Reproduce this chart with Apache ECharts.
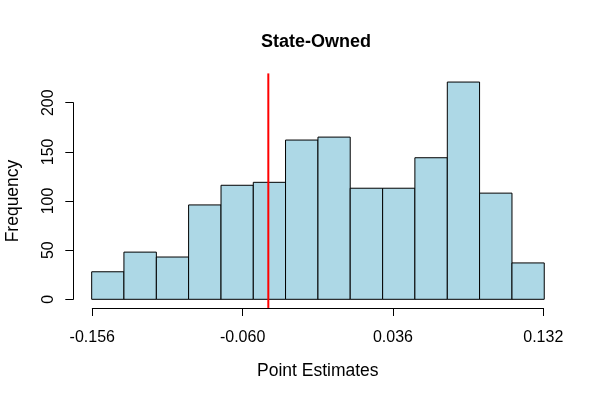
<!DOCTYPE html>
<html>
<head>
<meta charset="utf-8">
<script src="https://cdn.jsdelivr.net/npm/echarts@6/dist/echarts.min.js"></script>
<style>
  html, body { margin: 0; padding: 0; background: #fff; }
  #chart { width: 600px; height: 400px; }
</style>
</head>
<body>
<div id="chart"></div>
<script>
  // histogram breaks (bin edges) and counts per bin
  var breaks = [-0.1564, -0.1358, -0.1151, -0.0945, -0.0738, -0.0532, -0.0326, -0.0119,
                0.0087, 0.0294, 0.0500, 0.0707, 0.0913, 0.1120, 0.1326];
  var counts = [28, 48, 43, 96, 116, 119, 162, 165, 113, 113, 144, 221, 108, 37];
  var xTicks = [-0.156, -0.060, 0.036, 0.132];
  var yTicks = [0, 50, 100, 150, 200];
  var refLine = -0.0436;   // red vertical line
  var plotYRange = [-8.8, 229.8]; // vertical extent of plot region (abline spans it)

  var font = 'Liberation Sans, Arial, sans-serif';

  var bins = counts.map(function (c, i) { return [breaks[i], breaks[i + 1], c]; });

  var chart = echarts.init(document.getElementById('chart'));
  chart.setOption({
    animation: false,
    title: {
      text: 'State-Owned',
      left: 311,
      top: 28,
      textAlign: 'center',
      textStyle: { fontFamily: font, fontSize: 18, fontWeight: 'bold', color: '#000' }
    },
    grid: {
      left: 92.3, right: 56.7, top: 102.7, bottom: 100.7,
      containLabel: false,
      outerBoundsMode: 'none'
    },
    xAxis: {
      type: 'value',
      min: xTicks[0],
      max: xTicks[xTicks.length - 1],
      offset: 8.7,
      name: 'Point Estimates',
      nameLocation: 'middle',
      nameGap: 54,
      nameTextStyle: { fontFamily: font, fontSize: 17.5, color: '#000' },
      splitLine: { show: false },
      axisLine: { onZero: false, lineStyle: { color: '#000', width: 1 } },
      axisTick: { length: 8, lineStyle: { color: '#000' }, customValues: xTicks },
      axisLabel: {
        customValues: xTicks,
        margin: 22,
        fontFamily: font, fontSize: 16, color: '#000',
        formatter: function (v) { return v.toFixed(3); }
      }
    },
    yAxis: {
      type: 'value',
      min: yTicks[0],
      max: yTicks[yTicks.length - 1],
      interval: 50,
      offset: 19,
      name: 'Frequency',
      nameLocation: 'middle',
      nameGap: 51,
      nameTextStyle: { fontFamily: font, fontSize: 17.5, color: '#000' },
      splitLine: { show: false },
      axisLine: { show: true, onZero: false, lineStyle: { color: '#000', width: 1 } },
      axisTick: { show: true, length: 8, lineStyle: { color: '#000' } },
      axisLabel: { rotate: 90, margin: 17, fontFamily: font, fontSize: 16, color: '#000' }
    },
    series: [
      {
        type: 'custom',
        clip: false,
        data: bins,
        renderItem: function (params, api) {
          var p0 = api.coord([api.value(0), api.value(2)]);
          var p1 = api.coord([api.value(1), 0]);
          return {
            type: 'rect',
            shape: { x: p0[0], y: p0[1], width: p1[0] - p0[0], height: p1[1] - p0[1] },
            style: { fill: '#ADD8E6', stroke: '#000', lineWidth: 1 }
          };
        }
      },
      {
        type: 'custom',
        clip: false,
        data: [[refLine]],
        z: 5,
        renderItem: function (params, api) {
          var top = api.coord([api.value(0), plotYRange[1]]);
          var bot = api.coord([api.value(0), plotYRange[0]]);
          return {
            type: 'line',
            shape: { x1: top[0], y1: top[1], x2: bot[0], y2: bot[1] },
            style: { stroke: '#FF0000', lineWidth: 2 }
          };
        }
      }
    ]
  });
</script>
</body>
</html>
